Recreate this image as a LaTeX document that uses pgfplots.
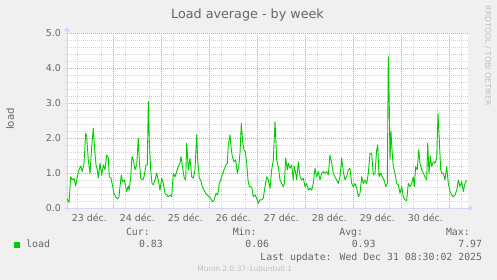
\documentclass[border=0pt]{standalone}
\usepackage{pgfplots}
\pgfplotsset{compat=1.18}
\usepackage{pgfplotstable}
\usepackage{fontspec}
\setmainfont{DejaVu Sans}
\newfontfamily\monofont{DejaVu Sans Mono}
\usetikzlibrary{arrows.meta}
\definecolor{bg}{HTML}{F0F0F0}
\definecolor{txt}{HTML}{666666}
\definecolor{faint}{HTML}{C0C0C0}
\definecolor{minorgrid}{HTML}{D4D4D4}
\definecolor{majorgrid}{HTML}{E89A9A}
\definecolor{axiscol}{HTML}{CFD6F8}
\definecolor{loadgreen}{HTML}{00CC00}

% px = horizontal position in the 497x280 picture (30 min per px), load = value
\pgfplotstableread{
px load
66.7 0.29
69.0 0.16
70.7 0.90
72.3 0.81
74.0 0.86
75.7 0.64
77.3 0.90
79.0 1.10
80.7 1.21
82.3 1.05
84.0 1.29
85.7 2.14
86.7 2.05
88.3 1.38
90.0 1.00
91.7 1.76
93.3 2.29
94.7 1.67
96.0 1.24
97.3 1.10
98.3 0.86
100.0 1.29
101.7 0.95
103.3 1.24
105.0 1.10
106.7 1.52
108.3 1.43
109.3 0.90
111.0 0.86
112.7 0.62
114.0 0.43
115.7 0.33
117.3 0.27
119.0 0.33
120.0 0.62
121.3 0.95
122.7 0.76
124.3 0.81
125.7 0.62
126.7 0.48
128.3 0.64
129.3 0.52
130.7 0.90
132.0 1.48
133.3 1.38
135.0 1.10
136.7 1.24
138.3 2.00
139.3 1.38
140.7 0.86
142.7 0.81
144.0 0.90
146.0 1.24
147.3 1.24
148.3 3.05
149.3 1.95
150.7 1.10
152.0 0.71
153.3 0.67
155.0 0.81
156.7 1.00
158.3 0.81
160.0 0.52
161.7 0.86
163.3 0.71
165.0 0.43
166.7 0.38
168.3 0.33
170.0 0.38
171.7 0.33
173.3 1.00
175.0 0.90
176.7 1.05
178.3 1.19
180.0 1.29
181.0 1.48
182.7 1.14
184.3 0.86
185.7 0.81
186.7 1.86
188.3 1.10
190.0 1.43
191.7 0.90
193.3 0.86
195.0 1.10
196.7 2.10
197.7 1.38
199.3 0.86
200.7 0.81
202.3 0.62
204.0 0.52
205.7 0.43
207.3 0.38
209.0 0.33
210.7 0.29
212.3 0.19
214.0 0.22
216.0 0.43
217.7 0.38
219.3 0.71
220.7 0.81
222.3 0.95
224.0 1.10
226.0 1.24
227.3 1.29
228.3 1.81
230.0 2.10
231.0 1.76
232.3 1.48
234.0 1.33
235.7 1.38
237.3 1.00
238.7 1.19
240.0 1.57
241.3 2.43
242.7 1.90
244.0 1.67
245.3 1.62
246.7 1.29
248.0 0.81
249.3 0.62
250.7 0.62
252.0 0.57
253.3 0.33
255.0 0.38
256.7 0.29
258.3 0.14
260.0 0.24
261.7 0.24
263.3 0.29
265.0 0.62
266.7 0.90
268.3 0.81
270.0 0.57
271.7 1.10
273.3 1.38
275.0 2.48
276.7 1.38
278.3 1.19
280.0 0.81
281.7 0.71
283.3 0.62
284.3 0.71
285.7 1.43
287.3 1.10
288.3 1.29
290.0 1.14
291.7 1.24
293.3 0.81
294.3 1.19
295.7 1.00
296.7 0.81
298.3 1.33
300.0 0.90
301.7 0.81
303.3 0.86
305.0 0.62
306.7 0.71
308.3 0.52
310.0 0.57
311.7 0.52
313.3 0.71
315.0 1.14
316.7 0.90
318.3 1.05
320.0 0.81
321.7 1.00
323.3 1.05
325.0 1.00
326.7 1.05
328.3 0.95
330.0 1.52
331.7 1.29
333.3 1.00
335.0 0.90
336.7 0.81
338.3 0.71
340.0 0.90
341.7 1.43
343.3 1.05
345.0 0.81
346.7 0.90
348.3 1.10
350.0 1.14
351.7 0.71
353.3 0.62
355.0 0.71
356.7 0.57
358.3 0.33
360.0 0.43
361.7 0.90
363.3 0.71
365.0 0.81
366.7 0.71
368.3 1.00
370.0 1.57
371.7 1.57
373.3 0.95
375.0 1.00
376.7 1.67
377.7 1.81
379.0 0.90
380.7 1.00
382.3 0.90
384.0 0.81
385.7 0.62
387.3 0.71
388.3 4.33
389.3 2.90
390.0 1.38
391.0 2.19
392.0 1.67
393.3 1.19
395.0 1.00
396.7 0.71
398.3 0.67
400.0 0.43
401.7 0.62
403.3 0.33
405.0 0.24
406.7 0.22
408.3 0.71
410.0 0.62
411.7 0.71
413.3 0.90
414.3 0.62
415.7 1.19
417.3 1.10
418.7 1.67
420.0 1.29
421.7 1.10
423.3 1.00
425.0 0.90
426.7 0.81
427.7 1.86
429.0 1.00
430.3 1.48
431.7 1.19
433.3 1.33
435.0 1.29
436.7 1.43
438.0 2.71
439.3 1.95
440.7 1.10
442.0 1.00
443.3 1.00
445.0 0.81
446.7 1.19
448.3 0.71
450.0 0.48
451.7 0.38
453.3 0.33
455.0 0.38
456.7 0.52
458.3 0.81
460.0 0.62
461.7 0.76
463.3 0.48
465.0 0.71
466.5 0.80
}\loaddata

\begin{document}
\begin{tikzpicture}
\fill[bg] (-67bp,-71.7bp) rectangle ++(497bp,280bp);
\begin{axis}[
  at={(0,0)}, anchor=south west, scale only axis,
  width=401bp, height=175bp,
  xmin=0.85, xmax=201.35, ymin=0, ymax=5,
  axis background/.style={fill=white},
  axis lines=left,
  axis line style={draw=axiscol, line width=0.9bp},
  x axis line style={-{Triangle[length=4bp,width=6bp]}, shorten >=-5bp, shorten <=-3bp},
  y axis line style={-{Triangle[length=4bp,width=6bp]}, shorten >=-6bp, shorten <=-3bp},
  xtick={12,36,60,84,108,132,156,180},
  xticklabels={23 déc.,24 déc.,25 déc.,26 déc.,27 déc.,28 déc.,29 déc.,30 déc.},
  minor xtick={6,18,30,42,54,66,78,90,102,114,126,138,150,162,174,186,198},
  extra x ticks={24,48,72,96,120,144,168,192},
  extra x tick labels={},
  extra x tick style={grid=major},
  ytick={0,1,2,3,4,5},
  minor y tick num=4,
  xmajorgrids=false, xminorgrids=true,
  ymajorgrids=true, yminorgrids=true,
  major grid style={draw=majorgrid, dash pattern=on 1bp off 1bp, line width=0.8bp},
  minor grid style={draw=minorgrid, dash pattern=on 1bp off 1bp, line width=0.8bp},
  tick align=outside,
  major tick length=2bp, minor tick length=2bp,
  tick style={draw=axiscol, line width=0.6bp},
  major x tick style={draw=none},
  /pgf/number format/assume math mode=true,
  yticklabel style={/pgf/number format/.cd, fixed, fixed zerofill, precision=1, /tikz/.cd,
     font=\fontsize{9.5}{11}\selectfont, text=txt, xshift=-0.5bp},
  xticklabel style={font=\fontsize{9.5}{11}\selectfont, text=txt, yshift=-0.5bp},
  clip=true,
]
\addplot[color=loadgreen, line width=0.9bp, line join=round] table[x expr={(\thisrow{px}-65.3)/2}, y=load] {\loaddata};
\end{axis}
% title
\node[anchor=base, inner sep=0, text=txt, font=\fontsize{12.8}{15}\selectfont] at (180.5bp,190bp) {Load average - by week};
% y label
\node[rotate=90, inner sep=0, text=txt, font=\fontsize{10.2}{12}\selectfont] at (-57bp,89.3bp) {load};
% rrdtool credit
\node[rotate=-90, inner sep=0, text=faint, font=\fontsize{7.8}{9}\selectfont] at (421bp,152.3bp) {RRDTOOL / TOBI OETIKER};
% legend
\fill[loadgreen] (-53bp,-39.4bp) rectangle (-47bp,-33.4bp);
\begin{scope}[every node/.style={inner sep=0, text=txt, font=\monofont\fontsize{9.9}{12}\selectfont}]
\node[anchor=base west] at (-41bp,-39.4bp) {load};
\node[anchor=base east] at (83bp,-27.4bp) {Cur:};
\node[anchor=base east] at (96bp,-39.4bp) {0.83};
\node[anchor=base east] at (189.7bp,-27.4bp) {Min:};
\node[anchor=base east] at (202.3bp,-39.4bp) {0.06};
\node[anchor=base east] at (296.3bp,-27.4bp) {Avg:};
\node[anchor=base east] at (308.7bp,-39.4bp) {0.93};
\node[anchor=base east] at (403bp,-27.4bp) {Max:};
\node[anchor=base east] at (415.3bp,-39.4bp) {7.97};
\node[anchor=base east] at (415.3bp,-51.7bp) {Last update: Wed Dec 31 08:30:02 2025};
\end{scope}
\node[anchor=base, inner sep=0, text=faint, font=\fontsize{7.5}{9}\selectfont] at (177.8bp,-63.4bp) {Munin 2.0.37-1ubuntu0.1};
\pgfresetboundingbox
\useasboundingbox (-67bp,-71.7bp) rectangle ++(497bp,280bp);
\end{tikzpicture}
\end{document}
